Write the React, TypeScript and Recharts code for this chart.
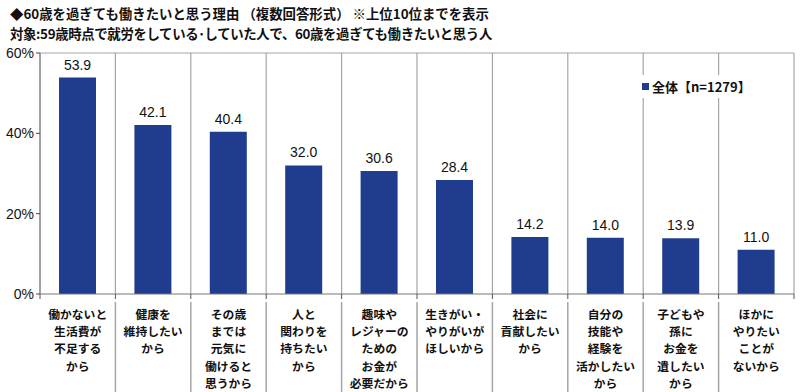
import React from "react";
import { BarChart, Bar, XAxis, YAxis, CartesianGrid, LabelList } from "recharts";

// 理由ラベル（改行は \n）
const reasons = [
  "働かないと\n生活費が\n不足する\nから",
  "健康を\n維持したい\nから",
  "その歳\nまでは\n元気に\n働けると\n思うから",
  "人と\n関わりを\n持ちたい\nから",
  "趣味や\nレジャーの\nための\nお金が\n必要だから",
  "生きがい・\nやりがいが\nほしいから",
  "社会に\n貢献したい\nから",
  "自分の\n技能や\n経験を\n活かしたい\nから",
  "子どもや\n孫に\nお金を\n遺したい\nから",
  "ほかに\nやりたい\nことが\nないから"
];

const shares = [53.9, 42.1, 40.4, 32.0, 30.6, 28.4, 14.2, 14.0, 13.9, 11.0];

const yTicks = [0, 20, 40, 60];

const data = reasons.map((r, i) => ({ reason: r, value: shares[i] }));

const W = 800;
const H = 392;
const LEFT = 40;
const RIGHT = 6;
const TOP = 53;
const XH = 98;
const STEP = (W - LEFT - RIGHT) / reasons.length;
const BLUE = "#1f3c8f";
const GRID = "#a6a6a6";
const JP = "'Noto Sans CJK JP', 'Noto Sans', sans-serif";

const ReasonTick = (props: any) => {
  const { x, index, payload } = props;
  const axisY = H - XH;
  const lines = String(payload.value).split("\n");
  const left = x - STEP / 2;
  const right = x + STEP / 2;
  return (
    <g>
      <line x1={left} x2={left} y1={axisY} y2={axisY + 5} stroke="#555" />
      {index === reasons.length - 1 && (
        <line x1={right} x2={right} y1={axisY} y2={axisY + 5} stroke="#555" />
      )}
      {index > 0 && (
        <line x1={left} x2={left} y1={axisY + 8} y2={H} stroke={GRID} strokeWidth={1.5} />
      )}
      {lines.map((l, i) => (
        <text
          key={i}
          x={x}
          y={axisY + 25 + i * 17.2}
          textAnchor="middle"
          fontFamily={JP}
          fontWeight={700}
          fontSize={11.8}
          fill="#111"
        >
          {l}
        </text>
      ))}
    </g>
  );
};

export default function App() {
  return (
    <div style={{ position: "absolute", left: 0, top: 0, width: W, height: H, background: "#fff" }}>
      <div
        style={{
          position: "absolute",
          left: 10,
          top: 3,
          fontFamily: JP,
          fontWeight: 700,
          fontSize: 13.4,
          lineHeight: "20px",
          color: "#111",
          whiteSpace: "nowrap",
          zIndex: 2
        }}
      >
        <div>◆60歳を過ぎても働きたいと思う理由 （複数回答形式） ※上位10位までを表示</div>
        <div style={{ letterSpacing: -0.35 }}>対象:59歳時点で就労をしている･していた人で、60歳を過ぎても働きたいと思う人</div>
      </div>
      <BarChart
        width={W}
        height={H}
        data={data}
        margin={{ top: TOP, right: RIGHT, left: 0, bottom: 0 }}
      >
        <CartesianGrid
          stroke={GRID}
          strokeWidth={1.2}
          horizontalCoordinatesGenerator={({ offset }: any) => [offset.top]}
          verticalCoordinatesGenerator={({ offset }: any) =>
            reasons.map((_, i) => offset.left + (i + 1) * (offset.width / reasons.length))
          }
        />
        <YAxis
          width={LEFT}
          domain={[0, 60]}
          ticks={yTicks}
          tickFormatter={(v) => `${v}%`}
          axisLine={{ stroke: "#444" }}
          tickLine={{ stroke: "#444" }}
          tickSize={4}
          tick={{ fontSize: 14, fill: "#111", fontFamily: "'Liberation Sans', Arial, sans-serif" }}
        />
        <XAxis
          dataKey="reason"
          height={XH}
          interval={0}
          axisLine={{ stroke: "#777" }}
          tickLine={false}
          tick={<ReasonTick />}
        />
        <Bar dataKey="value" fill={BLUE} barSize={37} isAnimationActive={false}>
          <LabelList
            dataKey="value"
            position="top"
            offset={8}
            formatter={(v: any) => Number(v).toFixed(1)}
            style={{ fontSize: 14, fill: "#111", fontFamily: "'Liberation Sans', Arial, sans-serif" }}
          />
        </Bar>
      </BarChart>
      <div
        style={{
          position: "absolute",
          left: 638,
          top: 75,
          background: "#fff",
          display: "flex",
          alignItems: "center",
          padding: "2px 4px",
          fontFamily: JP,
          fontWeight: 700,
          fontSize: 13,
          color: "#111"
        }}
      >
        <span style={{ width: 7, height: 7, background: BLUE, display: "inline-block", marginRight: 3 }} />
        全体【n=1279】
      </div>
    </div>
  );
}
